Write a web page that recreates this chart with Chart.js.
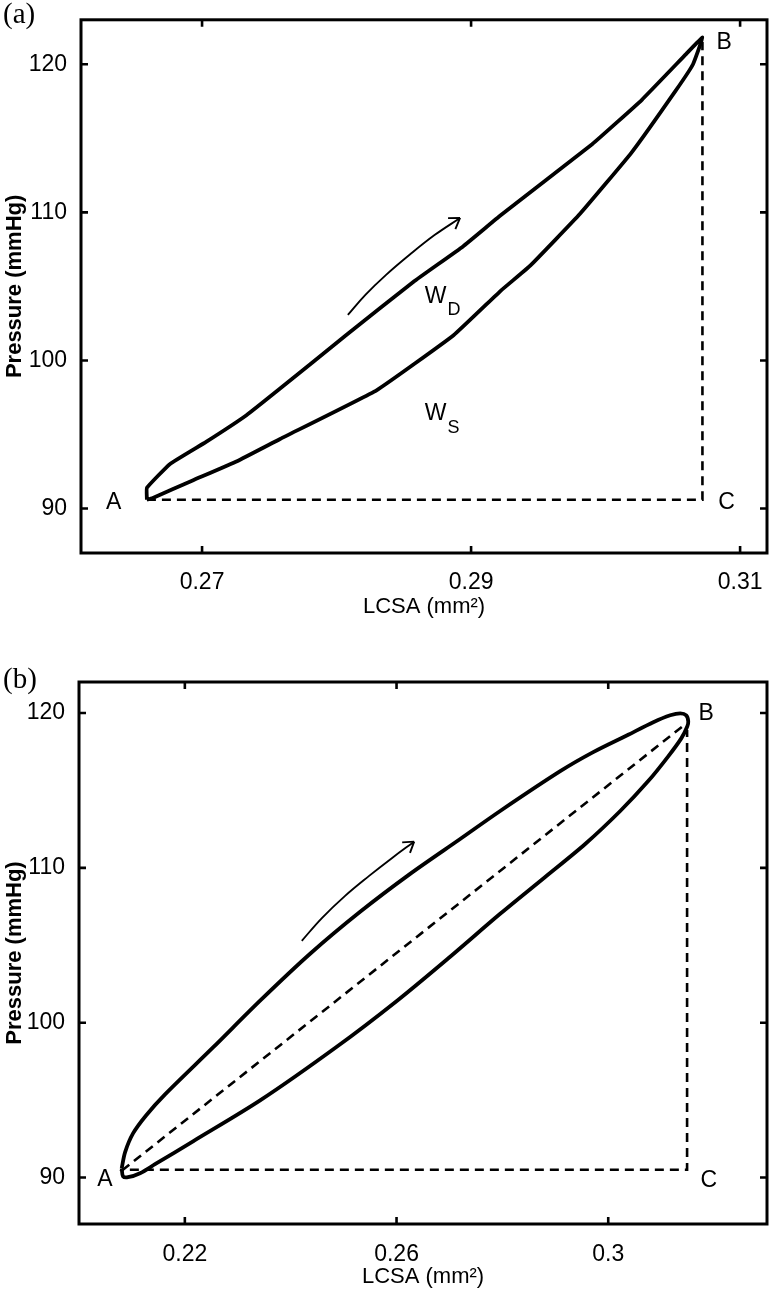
<!DOCTYPE html>
<html>
<head>
<meta charset="utf-8">
<script src="https://cdn.jsdelivr.net/npm/chart.js@4.4.0/dist/chart.umd.min.js"></script>
<style>
  body { margin: 0; background: #fff; }
  #wrap { position: relative; width: 772px; height: 1291px; }
  .panel { position: absolute; left: 0; width: 772px; }
</style>
</head>
<body>
<div id="wrap">
  <div class="panel" style="top:0;height:640px"><canvas id="chartA" width="772" height="640"></canvas></div>
  <div class="panel" style="top:640px;height:651px"><canvas id="chartB" width="772" height="651"></canvas></div>
</div>
<script>
// ---- panel (a) ----
// loop: loading A -> B, then unloading B -> A
const loopA_lcsa = [0.2659, 0.2659, 0.2676, 0.2703, 0.2733, 0.2758, 0.2807, 0.2857, 0.2894, 0.2922, 0.2990, 0.3027, 0.3060, 0.3072,
                    0.3065, 0.3052, 0.3019, 0.2981, 0.2944, 0.2922, 0.2887, 0.2830, 0.2758, 0.2726, 0.2693, 0.2663, 0.2659];
const loopA_pressure = [90.6, 91.4, 93.0, 94.5, 96.3, 98.1, 101.7, 105.3, 107.7, 109.8, 114.6, 117.6, 120.7, 121.8,
                        120.0, 118.2, 114.0, 109.9, 106.4, 104.7, 101.7, 98.0, 94.7, 93.2, 91.9, 90.7, 90.6];
// dashed A -> C -> B
const dashA_lcsa = [0.2659, 0.3072, 0.3072];
const dashA_pressure = [90.6, 90.6, 121.5];
const arrowA_lcsa = [0.28084, 0.28216, 0.28366, 0.28545, 0.28731, 0.28918];
const arrowA_pressure = [103.07, 104.44, 105.76, 107.15, 108.48, 109.62];
const ticksA_x = [0.27, 0.29, 0.31];
const ticksA_y = [90, 100, 110, 120];

// ---- panel (b) ----
// loop: upper branch A -> B, lower branch B -> A
const loopB_lcsa = [0.20807, 0.20870, 0.21021, 0.21267, 0.21626, 0.22533, 0.23422, 0.24367, 0.25312, 0.26257, 0.27202, 0.27958,
                    0.29093, 0.29716, 0.30359, 0.30851, 0.31172, 0.31361, 0.31474, 0.31512,
                    0.31493, 0.31380, 0.31134, 0.30756, 0.30227, 0.29565, 0.28809, 0.27958, 0.27013, 0.26011, 0.24877,
                    0.23422, 0.22155, 0.21437, 0.21153, 0.20926, 0.20832, 0.20807];
const loopB_pressure = [90.60, 91.63, 92.85, 94.01, 95.37, 98.40, 101.42, 104.45, 107.16, 109.61, 111.86, 113.67,
                        116.24, 117.47, 118.56, 119.40, 119.85, 119.98, 119.85, 119.46,
                        119.13, 118.36, 117.20, 115.60, 113.67, 111.54, 109.41, 107.03, 104.26, 101.42, 98.46,
                        94.98, 92.34, 90.86, 90.28, 90.02, 90.08, 90.60];
// dashed B -> A -> C -> B
const dashB_lcsa = [0.3139, 0.2083, 0.3149, 0.3149];
const dashB_pressure = [119.1, 90.5, 90.5, 118.9];
const arrowB_lcsa = [0.24210, 0.24594, 0.25028, 0.25482, 0.25917, 0.26333];
const arrowB_pressure = [105.29, 106.77, 108.19, 109.48, 110.64, 111.69];
const ticksB_x = [0.22, 0.26, 0.3];
const ticksB_y = [90, 100, 110, 120];

const pts = (xs, ys) => xs.map((v, i) => ({ x: v, y: ys[i] }));

Chart.defaults.font.family = '"Liberation Sans", Arial, sans-serif';
Chart.defaults.font.size = 23;
Chart.defaults.color = '#000';

// box with inward ticks on all four sides, arrow head and text notes
const frame = {
  id: 'frame',
  afterDraw(chart, args, o) {
    const { ctx, chartArea: a, scales: { x, y } } = chart;
    ctx.save();
    ctx.strokeStyle = '#000';
    ctx.lineWidth = 3;
    ctx.strokeRect(a.left, a.top, a.right - a.left, a.bottom - a.top);
    ctx.lineWidth = 2.6;
    ctx.beginPath();
    x.ticks.forEach(t => {
      const px = x.getPixelForValue(t.value);
      ctx.moveTo(px, a.bottom); ctx.lineTo(px, a.bottom - 7);
      ctx.moveTo(px, a.top); ctx.lineTo(px, a.top + 7);
    });
    y.ticks.forEach(t => {
      const py = y.getPixelForValue(t.value);
      ctx.moveTo(a.left, py); ctx.lineTo(a.left + 7, py);
      ctx.moveTo(a.right, py); ctx.lineTo(a.right - 7, py);
    });
    ctx.stroke();

    // arrow head on the arrow dataset
    const el = chart.getDatasetMeta(o.arrowIndex).data;
    const p1 = el[el.length - 2], p2 = el[el.length - 1];
    const ang = Math.atan2(p2.y - p1.y, p2.x - p1.x);
    ctx.lineWidth = 1.9;
    ctx.beginPath();
    [-0.58, 0.58].forEach(d => {
      ctx.moveTo(p2.x, p2.y);
      ctx.lineTo(p2.x - 12 * Math.cos(ang + d), p2.y - 12 * Math.sin(ang + d));
    });
    ctx.stroke();

    ctx.fillStyle = '#000';
    ctx.textBaseline = 'middle';
    o.notes.forEach(n => {
      const px = x.getPixelForValue(n.x), py = y.getPixelForValue(n.y);
      ctx.font = '23px "Liberation Sans", Arial, sans-serif';
      ctx.textAlign = 'center';
      ctx.fillText(n.text, px, py);
      if (n.sub) {
        const w = ctx.measureText(n.text).width;
        ctx.font = '18px "Liberation Sans", Arial, sans-serif';
        ctx.textAlign = 'left';
        ctx.fillText(n.sub, px + w / 2 + 1, py + 14);
      }
    });

    ctx.font = '29px "Liberation Serif", "Times New Roman", serif';
    ctx.textAlign = 'left';
    ctx.fillText(o.tag, 3, o.tagY);
    ctx.restore();
  }
};

function makeChart(id, cfg) {
  return new Chart(document.getElementById(id), {
    type: 'scatter',
    data: {
      datasets: [
        { data: pts(cfg.dashX, cfg.dashY), showLine: true, borderColor: '#000', borderWidth: 2.6,
          borderDash: [9, 6], pointRadius: 0, tension: 0 },
        { data: pts(cfg.loopX, cfg.loopY), showLine: true, borderColor: '#000', borderWidth: 3.8,
          pointRadius: 0, tension: cfg.tension, borderJoinStyle: 'round' },
        { data: pts(cfg.arrowX, cfg.arrowY), showLine: true, borderColor: '#000', borderWidth: 1.9,
          pointRadius: 0, tension: 0.4 }
      ]
    },
    options: {
      responsive: false,
      animation: false,
      layout: { padding: cfg.padding },
      plugins: {
        legend: { display: false },
        tooltip: { enabled: false },
        frame: { arrowIndex: 2, notes: cfg.notes, tag: cfg.tag, tagY: cfg.tagY }
      },
      scales: {
        x: {
          type: 'linear', min: cfg.xMin, max: cfg.xMax,
          grid: { display: false }, border: { display: false },
          afterBuildTicks: s => { s.ticks = cfg.ticksX.map(v => ({ value: v })); },
          afterFit: s => { s.height = cfg.xHeight; },
          ticks: { padding: cfg.xPad, maxRotation: 0, callback: v => String(v) },
          title: { display: true, text: 'LCSA (mm²)', font: { size: 22 }, padding: { top: 0, bottom: cfg.xTitlePad } }
        },
        y: {
          type: 'linear', min: cfg.yMin, max: cfg.yMax,
          grid: { display: false }, border: { display: false },
          afterBuildTicks: s => { s.ticks = cfg.ticksY.map(v => ({ value: v })); },
          afterFit: s => { s.width = cfg.yWidth; },
          ticks: { padding: 6, callback: v => String(v) },
          title: { display: true, text: 'Pressure (mmHg)', font: { size: 22, weight: 'bold' }, padding: { top: 2, bottom: 0 } }
        }
      }
    },
    plugins: [frame]
  });
}

makeChart('chartA', {
  loopX: loopA_lcsa, loopY: loopA_pressure, dashX: dashA_lcsa, dashY: dashA_pressure,
  arrowX: arrowA_lcsa, arrowY: arrowA_pressure, ticksX: ticksA_x, ticksY: ticksA_y,
  xMin: 0.261, xMax: 0.312, yMin: 87, yMax: 123, tension: 0.1,
  padding: { left: 0, top: 10, right: 5, bottom: 0 }, xHeight: 87, yWidth: 81, xPad: 8, xTitlePad: 20,
  tag: '(a)', tagY: 15,
  notes: [
    { text: 'A', x: 0.26343, y: 90.4 }, { text: 'B', x: 0.30881, y: 121.46 }, { text: 'C', x: 0.309, y: 90.4 },
    { text: 'W', sub: 'D', x: 0.28737, y: 104.32 }, { text: 'W', sub: 'S', x: 0.28737, y: 96.38 }
  ]
});

makeChart('chartB', {
  loopX: loopB_lcsa, loopY: loopB_pressure, dashX: dashB_lcsa, dashY: dashB_pressure,
  arrowX: arrowB_lcsa, arrowY: arrowB_pressure, ticksX: ticksB_x, ticksY: ticksB_y,
  xMin: 0.2, xMax: 0.33, yMin: 87, yMax: 122, tension: 0.3,
  padding: { left: 0, top: 42, right: 5, bottom: 0 }, xHeight: 67, yWidth: 79, xPad: 9, xTitlePad: 1,
  tag: '(b)', tagY: 40,
  notes: [
    { text: 'A', x: 0.2049, y: 89.89 }, { text: 'B', x: 0.3185, y: 119.94 }, { text: 'C', x: 0.319, y: 89.8 }
  ]
});
</script>
</body>
</html>
